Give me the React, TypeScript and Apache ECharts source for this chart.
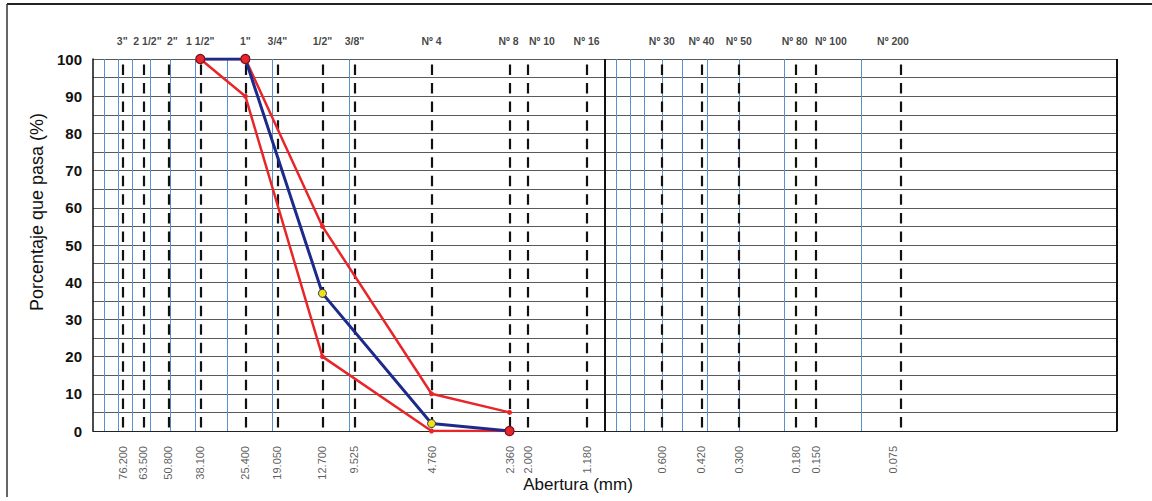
import React, { useEffect, useRef } from "react";
import * as echarts from "echarts";

const SIEVE_SIZES = [76.2, 63.5, 50.8, 38.1, 25.4, 19.05, 12.7, 9.525, 4.76, 2.36, 2.0, 1.18, 0.6, 0.42, 0.3, 0.18, 0.15, 0.075];
const SIEVE_NAMES = ['3"', '2 1/2"', '2"', '1 1/2"', '1"', '3/4"', '1/2"', '3/8"', "Nº 4", "Nº 8", "Nº 10", "Nº 16", "Nº 30", "Nº 40", "Nº 50", "Nº 80", "Nº 100", "Nº 200"];
const SIEVE_LABELS = ["76.200", "63.500", "50.800", "38.100", "25.400", "19.050", "12.700", "9.525", "4.760", "2.360", "2.000", "1.180", "0.600", "0.420", "0.300", "0.180", "0.150", "0.075"];
const MINOR_GRID = [90, 80, 70, 60, 50, 40, 30, 20, 10, 0.9, 0.8, 0.7, 0.6, 0.5, 0.4, 0.3, 0.2, 0.1];
const DECADE_LINES = [1];
const Y_TICKS = [0, 10, 20, 30, 40, 50, 60, 70, 80, 90, 100];

const UPPER_SIZES = [38.1, 25.4, 12.7, 4.76, 2.36];
const UPPER_VALUES = [100, 100, 55, 10, 5];
const LOWER_SIZES = [38.1, 25.4, 12.7, 4.76, 2.36];
const LOWER_VALUES = [100, 90, 20, 0, 0];
const SAMPLE_SIZES = [38.1, 25.4, 12.7, 4.76, 2.36];
const SAMPLE_VALUES = [100, 100, 37, 2, 0];

const FONT = "'Liberation Sans', Arial, sans-serif";
const RED = "#e8262a";
const BLUE = "#1c2a8c";

// label nudges so neighbouring sieve names do not collide (as in the printed form)
const NAME_SHIFT: Record<string, number> = { '3"': -1, '2 1/2"': 4, '2"': 4, "Nº 8": -1, "Nº 10": 14, "Nº 80": -1, "Nº 100": 15 };

export default function App() {
  const ref = useRef<HTMLDivElement>(null);
  useEffect(() => {
    if (!ref.current) return;
    const chart = echarts.init(ref.current, null, { renderer: "svg" });
    const sampleData = SAMPLE_SIZES.map((s, i) => {
      const yellow = s === 12.7 || s === 4.76;
      return {
        value: [s, SAMPLE_VALUES[i]],
        symbolSize: yellow ? 8 : 9,
        itemStyle: yellow
          ? { color: "#f0e020", borderColor: "#333", borderWidth: 1 }
          : { color: RED, borderColor: "#7a1020", borderWidth: 1.2 },
      };
    });
    const topData = SIEVE_SIZES.map((s, i) => ({
      value: [s, 100],
      label: { offset: [NAME_SHIFT[SIEVE_NAMES[i]] || 0, 0] },
    }));
    const option: any = {
      animation: false,
      backgroundColor: "#ffffff",
      textStyle: { fontFamily: FONT },
      grid: { left: 93, right: 35, top: 59, bottom: 70, show: false },
      xAxis: {
        type: "log",
        logBase: 10,
        min: 0.01,
        max: 100,
        inverse: true,
        axisLabel: { show: false },
        axisTick: { show: false },
        splitLine: { show: false },
        minorSplitLine: { show: false },
        axisLine: { show: true, onZero: false, lineStyle: { color: "#222", width: 1.2 } },
      },
      yAxis: {
        type: "value",
        min: 0,
        max: 100,
        interval: 10,
        axisLine: { show: true, lineStyle: { color: "#111", width: 1.5 } },
        axisTick: { show: false },
        axisLabel: {
          margin: 11,
          fontSize: 15,
          fontWeight: "bold",
          color: "#111",
          fontFamily: FONT,
          formatter: (v: number) => (Y_TICKS.includes(v) ? String(v) : ""),
        },
        splitLine: { show: true, lineStyle: { color: "#5a5a5a", width: 1 } },
        minorTick: { show: false, splitNumber: 2 },
        minorSplitLine: { show: true, lineStyle: { color: "#5a5a5a", width: 1 } },
      },
      series: [
        {
          type: "line",
          data: [],
          silent: true,
          markLine: {
            silent: true,
            symbol: "none",
            label: { show: false },
            lineStyle: { color: "#5b8fd0", width: 1, type: "solid" },
            data: MINOR_GRID.map((v) => ({ xAxis: v })),
          },
        },
        {
          type: "line",
          data: [],
          silent: true,
          markLine: {
            silent: true,
            symbol: "none",
            label: { show: false },
            lineStyle: { color: "#111", width: 2, type: "solid" },
            data: DECADE_LINES.map((v) => ({ xAxis: v })).concat([{ xAxis: 0.0101 }]),
          },
        },
        {
          type: "line",
          data: [],
          silent: true,
          markLine: {
            silent: true,
            symbol: "none",
            label: { show: false },
            lineStyle: { color: "#111", width: 2.2, type: [10.5, 8.05], dashOffset: 14.5 },
            data: SIEVE_SIZES.map((v) => ({ xAxis: v })),
          },
        },
        {
          type: "scatter",
          silent: true,
          symbolSize: 0,
          data: topData,
          label: {
            show: true,
            position: "top",
            distance: 13,
            fontSize: 10.5,
            fontWeight: "bold",
            color: "#111",
            fontFamily: FONT,
            formatter: (p: any) => SIEVE_NAMES[p.dataIndex],
          },
        },
        {
          type: "scatter",
          silent: true,
          symbolSize: 0,
          data: SIEVE_SIZES.map((s) => [s, 0]),
          label: {
            show: true,
            position: "bottom",
            distance: 15,
            rotate: 90,
            align: "right",
            verticalAlign: "middle",
            fontSize: 11,
            color: "#333",
            fontFamily: FONT,
            formatter: (p: any) => SIEVE_LABELS[p.dataIndex],
          },
        },
        {
          type: "line",
          name: "Límite superior",
          data: UPPER_SIZES.map((s, i) => [s, UPPER_VALUES[i]]),
          lineStyle: { color: RED, width: 2.5 },
          itemStyle: { color: RED },
          symbol: "circle",
          symbolSize: 5,
          z: 5,
        },
        {
          type: "line",
          name: "Límite inferior",
          data: LOWER_SIZES.map((s, i) => [s, LOWER_VALUES[i]]),
          lineStyle: { color: RED, width: 2.5 },
          itemStyle: { color: RED },
          symbol: "circle",
          symbolSize: 5,
          z: 5,
        },
        {
          type: "line",
          name: "Muestra",
          data: sampleData,
          lineStyle: { color: BLUE, width: 3 },
          symbol: "circle",
          z: 6,
        },
      ],
      graphic: [
        { type: "line", shape: { x1: 7, y1: 4, x2: 1152, y2: 4 }, style: { stroke: "#222", lineWidth: 2 } },
        { type: "line", shape: { x1: 7, y1: 4, x2: 7, y2: 497 }, style: { stroke: "#333", lineWidth: 1.5 } },
        {
          type: "text",
          x: 37,
          y: 212,
          rotation: Math.PI / 2,
          style: {
            text: "Porcentaje que pasa (%)",
            fontSize: 18,
            fill: "#111",
            fontFamily: FONT,
            align: "center",
            verticalAlign: "middle",
          },
        },
        {
          type: "text",
          x: 578,
          y: 484,
          style: {
            text: "Abertura (mm)",
            fontSize: 17,
            fill: "#111",
            fontFamily: FONT,
            align: "center",
            verticalAlign: "middle",
          },
        },
      ],
    };
    chart.setOption(option);
    return () => chart.dispose();
  }, []);
  return (
    <div
      ref={ref}
      style={{ position: "absolute", left: 0, top: 0, width: 1152, height: 501, background: "#fff" }}
    />
  );
}
